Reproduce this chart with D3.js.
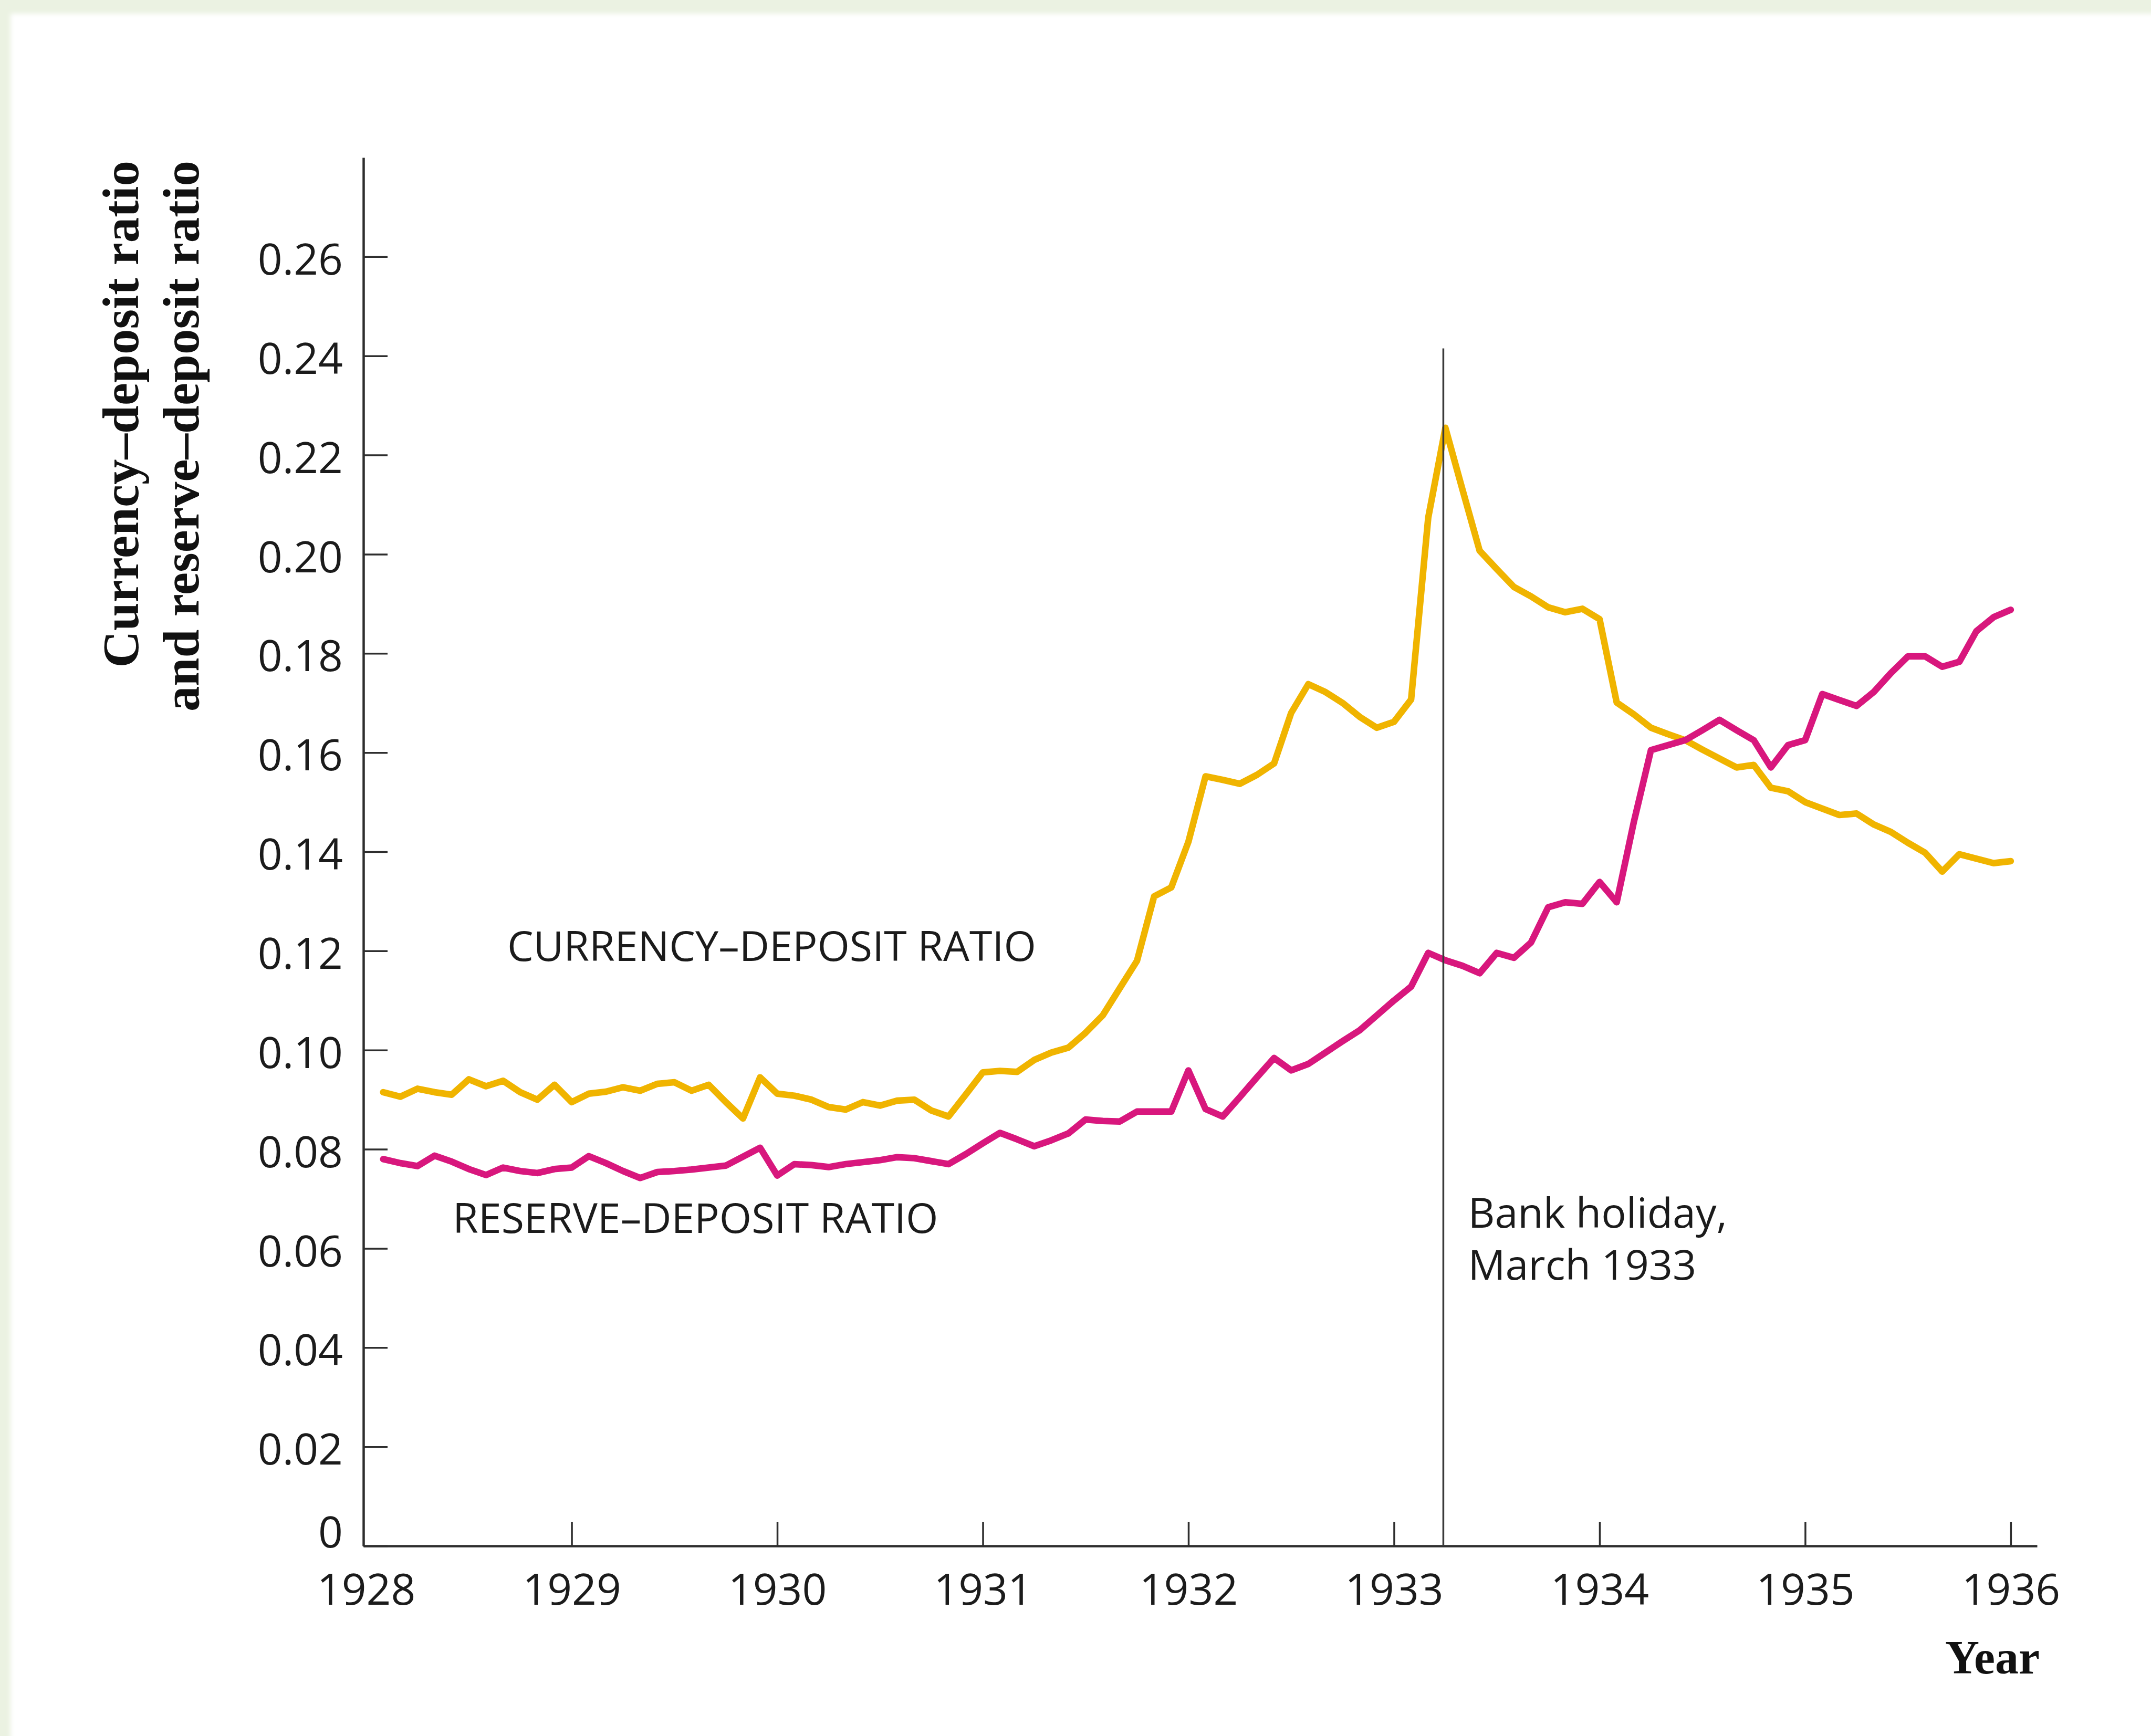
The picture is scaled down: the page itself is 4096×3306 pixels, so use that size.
<!DOCTYPE html>
<html>
<head>
<meta charset="utf-8">
<script src="https://cdn.jsdelivr.net/npm/d3@7"></script>
<style>
  html, body { margin: 0; padding: 0; background: #ffffff; }
  svg { display: block; }
</style>
</head>
<body>
<svg id="chart" width="4096" height="3306"></svg>
<script>
// Monthly observations, February 1928 through January 1936
const firstYear = 1928;
const firstMonth = 1; // 0 = January

const currencyDeposit = [
  0.0915, 0.0906, 0.0922, 0.0915, 0.0910, 0.0941, 0.0927, 0.0938, 0.0915, 0.0900, 0.0930,
  0.0895, 0.0912, 0.0916, 0.0925, 0.0918, 0.0932, 0.0935, 0.0918, 0.0930, 0.0895, 0.0862, 0.0945,
  0.0912, 0.0908, 0.0900, 0.0885, 0.0880, 0.0895, 0.0888, 0.0898, 0.0900, 0.0878, 0.0866, 0.0910,
  0.0955, 0.0958, 0.0956, 0.0980, 0.0995, 0.1005, 0.1035, 0.1070, 0.1125, 0.1180, 0.1310, 0.1328,
  0.1420, 0.1552, 0.1545, 0.1537, 0.1555, 0.1578, 0.1680, 0.1738, 0.1722, 0.1700, 0.1672, 0.1650,
  0.1662, 0.1707, 0.2074, 0.2255, 0.2130, 0.2007, 0.1970, 0.1934, 0.1915, 0.1893, 0.1883, 0.1890,
  0.1869, 0.1701, 0.1677, 0.1650, 0.1637, 0.1625, 0.1606, 0.1588, 0.1570, 0.1575, 0.1529, 0.1522,
  0.1500, 0.1487, 0.1474, 0.1477, 0.1455, 0.1440, 0.1418, 0.1398, 0.1360, 0.1395, 0.1386, 0.1377,
  0.1381
];

const reserveDeposit = [
  0.0780, 0.0772, 0.0766, 0.0787, 0.0775, 0.0760, 0.0748, 0.0763, 0.0756, 0.0752, 0.0760,
  0.0763, 0.0786, 0.0772, 0.0756, 0.0742, 0.0754, 0.0756, 0.0759, 0.0763, 0.0767, 0.0785, 0.0803,
  0.0747, 0.0770, 0.0768, 0.0764, 0.0770, 0.0774, 0.0778, 0.0784, 0.0782, 0.0776, 0.0770, 0.0790,
  0.0812, 0.0833, 0.0820, 0.0806, 0.0818, 0.0832, 0.0860, 0.0857, 0.0856, 0.0876, 0.0876, 0.0876,
  0.0959, 0.0881, 0.0866, 0.0905, 0.0945, 0.0984, 0.0959, 0.0972, 0.0995, 0.1018, 0.1040, 0.1070,
  0.1100, 0.1128, 0.1196, 0.1181, 0.1170, 0.1155, 0.1196, 0.1186, 0.1217, 0.1288, 0.1298, 0.1295,
  0.1339, 0.1298, 0.1460, 0.1605, 0.1615, 0.1625, 0.1645, 0.1666, 0.1645, 0.1625, 0.1570, 0.1615,
  0.1625, 0.1718, 0.1706, 0.1694, 0.1722, 0.1760, 0.1794, 0.1794, 0.1773, 0.1783, 0.1845, 0.1873,
  0.1888
];

const yTicks = [0, 0.02, 0.04, 0.06, 0.08, 0.10, 0.12, 0.14, 0.16, 0.18, 0.20, 0.22, 0.24, 0.26];
const xTicks = [1928, 1929, 1930, 1931, 1932, 1933, 1934, 1935, 1936];

// Bank holiday, March 1933 (decimal year) and the height of its marker line
const bankHolidayYear = 1933.24;
const bankHolidayTop = 0.2415;

const colors = {
  currency: "#F0B400",
  reserve: "#D8177D",
  axis: "#2e2e2e",
  text: "#1b1b1b",
  frame: "#EBF2E2"
};

const sansFont = "'Open Sans', 'Noto Sans', sans-serif";
const serifFont = "'Liberation Serif', 'DejaVu Serif', serif";

const svg = d3.select("#chart");
const W = 4096, H = 3306;

// Page frame: pale green strip along the top and left edges
const defs = svg.append("defs");
defs.append("filter").attr("id", "soft")
  .attr("x", "-5%").attr("y", "-5%").attr("width", "110%").attr("height", "110%")
  .append("feGaussianBlur").attr("stdDeviation", 4);
svg.append("rect").attr("width", W).attr("height", H).attr("fill", colors.frame);
svg.append("rect").attr("x", 20).attr("y", 26).attr("width", W + 40).attr("height", H + 40)
  .attr("fill", "#ffffff").attr("filter", "url(#soft)");

// Scales
const x = d3.scaleLinear().domain([1927.987, 1936.128]).range([692, 3879]);
const y = d3.scaleLinear().domain([0, 0.28]).range([2944, 300]);

const toSeries = values => values.map((v, i) => ({
  t: firstYear + (firstMonth + i) / 12,
  v
}));

// Axes
const xAxis = d3.axisBottom(x)
  .tickValues(xTicks)
  .tickFormat(d3.format("d"))
  .tickSizeInner(-46)
  .tickSizeOuter(0);

const gx = svg.append("g")
  .attr("transform", `translate(0,${y(0)})`)
  .call(xAxis);
gx.attr("font-family", sansFont).attr("font-size", 82);
gx.select(".domain").attr("stroke", colors.axis).attr("stroke-width", 4.5);
gx.selectAll(".tick line")
  .attr("stroke", colors.axis).attr("stroke-width", 3.5)
  .attr("display", d => d === xTicks[0] ? "none" : null);
gx.selectAll(".tick text")
  .attr("y", 112).attr("dy", null)
  .attr("fill", colors.text);

const yAxis = d3.axisLeft(y)
  .tickValues(yTicks)
  .tickFormat(d => d === 0 ? "0" : d.toFixed(2))
  .tickSizeInner(-46)
  .tickSizeOuter(0)
  .tickPadding(39);

const gy = svg.append("g")
  .attr("transform", `translate(${x.range()[0]},0)`)
  .call(yAxis);
gy.attr("font-family", sansFont).attr("font-size", 82);
gy.select(".domain").attr("stroke", colors.axis).attr("stroke-width", 4.5);
gy.selectAll(".tick line").attr("stroke", colors.axis).attr("stroke-width", 3.5);
// the zero label sits just above the horizontal axis
gy.selectAll(".tick text")
  .attr("dy", d => d === 0 ? "0.03em" : "0.41em")
  .attr("fill", colors.text);

// Series lines
const line = d3.line()
  .x(d => x(d.t))
  .y(d => y(d.v))
  .curve(d3.curveLinear);

svg.append("path")
  .datum(toSeries(currencyDeposit))
  .attr("fill", "none")
  .attr("stroke", colors.currency)
  .attr("stroke-width", 12.5)
  .attr("stroke-linejoin", "round")
  .attr("stroke-linecap", "round")
  .attr("d", line);

svg.append("path")
  .datum(toSeries(reserveDeposit))
  .attr("fill", "none")
  .attr("stroke", colors.reserve)
  .attr("stroke-width", 12.5)
  .attr("stroke-linejoin", "round")
  .attr("stroke-linecap", "round")
  .attr("d", line);

// Bank holiday marker
svg.append("line")
  .attr("x1", x(bankHolidayYear)).attr("x2", x(bankHolidayYear))
  .attr("y1", y(0)).attr("y2", y(bankHolidayTop))
  .attr("stroke", "#3a3a3a")
  .attr("stroke-width", 3.5);

// Series and event labels
const labels = svg.append("g")
  .attr("font-family", sansFont)
  .attr("font-size", 79)
  .attr("fill", colors.text);

labels.append("text").attr("x", 966).attr("y", 1830).text("CURRENCY\u2013DEPOSIT RATIO");
labels.append("text").attr("x", 862).attr("y", 2348).text("RESERVE\u2013DEPOSIT RATIO");
labels.append("text").attr("x", x(bankHolidayYear) + 47).attr("y", 2338).text("Bank holiday,");
labels.append("text").attr("x", x(bankHolidayYear) + 47).attr("y", 2437).text("March 1933");

// Axis titles
const yTitle = svg.append("g")
  .attr("font-family", serifFont)
  .attr("font-weight", "bold")
  .attr("font-size", 97)
  .attr("fill", "#111111")
  .attr("text-anchor", "end");

yTitle.append("text")
  .attr("transform", "translate(263,306) rotate(-90)")
  .text("Currency\u2013deposit ratio");
yTitle.append("text")
  .attr("transform", "translate(378,306) rotate(-90)")
  .text("and reserve\u2013deposit ratio");

svg.append("text")
  .attr("x", 3884).attr("y", 3187)
  .attr("text-anchor", "end")
  .attr("font-family", serifFont)
  .attr("font-weight", "bold")
  .attr("font-size", 90)
  .attr("fill", "#111111")
  .text("Year");
</script>
</body>
</html>
